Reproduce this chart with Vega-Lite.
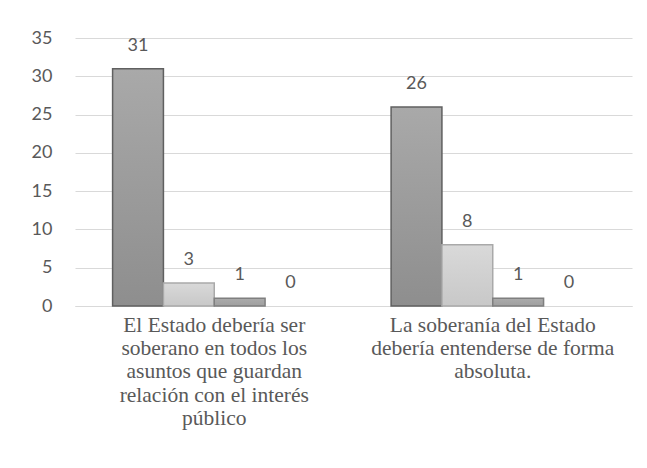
{
  "$schema": "https://vega.github.io/schema/vega-lite/v6.json",
  "width": 557,
  "height": 268,
  "autosize": "none",
  "padding": {"left": 75, "top": 38, "right": 15, "bottom": 162},
  "background": "white",
  "config": {"view": {"stroke": null}},
  "data": {
    "values": [
      {"pregunta": "El Estado debería ser soberano en todos los asuntos que guardan relación con el interés público", "serie": "Serie 1", "valor": 31},
      {"pregunta": "El Estado debería ser soberano en todos los asuntos que guardan relación con el interés público", "serie": "Serie 2", "valor": 3},
      {"pregunta": "El Estado debería ser soberano en todos los asuntos que guardan relación con el interés público", "serie": "Serie 3", "valor": 1},
      {"pregunta": "El Estado debería ser soberano en todos los asuntos que guardan relación con el interés público", "serie": "Serie 4", "valor": 0},
      {"pregunta": "La soberanía del Estado debería entenderse de forma absoluta.", "serie": "Serie 1", "valor": 26},
      {"pregunta": "La soberanía del Estado debería entenderse de forma absoluta.", "serie": "Serie 2", "valor": 8},
      {"pregunta": "La soberanía del Estado debería entenderse de forma absoluta.", "serie": "Serie 3", "valor": 1},
      {"pregunta": "La soberanía del Estado debería entenderse de forma absoluta.", "serie": "Serie 4", "valor": 0}
    ]
  },
  "encoding": {
    "x": {
      "field": "pregunta",
      "type": "nominal",
      "sort": null,
      "scale": {"paddingInner": 0.27, "paddingOuter": 0.135},
      "axis": {
        "title": null,
        "labelAngle": 0,
        "ticks": false,
        "domain": true,
        "domainColor": "#d9d9d9",
        "labelFont": "Liberation Serif",
        "labelFontSize": 21.5,
        "labelLineHeight": 23.4,
        "labelColor": "#595959",
        "labelPadding": 8,
        "labelLimit": 0,
        "labelExpr": "datum.value == 'La soberanía del Estado debería entenderse de forma absoluta.' ? ['La soberanía del Estado', 'debería entenderse de forma', 'absoluta.'] : ['El Estado debería ser', 'soberano en todos los', 'asuntos que guardan', 'relación con el interés', 'público']"
      }
    },
    "xOffset": {"field": "serie", "type": "nominal", "sort": null, "scale": {"paddingInner": 0, "paddingOuter": 0}},
    "y": {
      "field": "valor",
      "type": "quantitative",
      "scale": {"domain": [0, 35], "nice": false},
      "axis": {
        "title": null,
        "values": [0, 5, 10, 15, 20, 25, 30, 35],
        "domain": false,
        "ticks": false,
        "grid": true,
        "gridColor": "#d9d9d9",
        "gridWidth": 1,
        "labelFont": "Lato",
        "labelFontSize": 18,
        "labelColor": "#595959",
        "labelPadding": 23
      }
    }
  },
  "layer": [
    {
      "transform": [{"filter": "datum.serie == 'Serie 1'"}],
      "mark": {
        "type": "bar",
        "strokeWidth": 1.5,
        "stroke": "#606060",
        "color": {"gradient": "linear", "x1": 0, "y1": 0, "x2": 0, "y2": 1, "stops": [{"offset": 0, "color": "#a9a9a9"}, {"offset": 1, "color": "#8e8e8e"}]}
      }
    },
    {
      "transform": [{"filter": "datum.serie == 'Serie 2'"}],
      "mark": {
        "type": "bar",
        "strokeWidth": 1.5,
        "stroke": "#a9a9a9",
        "color": {"gradient": "linear", "x1": 0, "y1": 0, "x2": 0, "y2": 1, "stops": [{"offset": 0, "color": "#d9d9d9"}, {"offset": 1, "color": "#c8c8c8"}]}
      }
    },
    {
      "transform": [{"filter": "datum.serie == 'Serie 3'"}],
      "mark": {
        "type": "bar",
        "strokeWidth": 1.5,
        "stroke": "#7f7f7f",
        "color": {"gradient": "linear", "x1": 0, "y1": 0, "x2": 0, "y2": 1, "stops": [{"offset": 0, "color": "#ababab"}, {"offset": 1, "color": "#9f9f9f"}]}
      }
    },
    {
      "mark": {"type": "text", "baseline": "alphabetic", "dy": -18, "font": "Lato", "fontSize": 18, "color": "#595959"},
      "encoding": {"text": {"field": "valor", "type": "quantitative"}}
    }
  ]
}
